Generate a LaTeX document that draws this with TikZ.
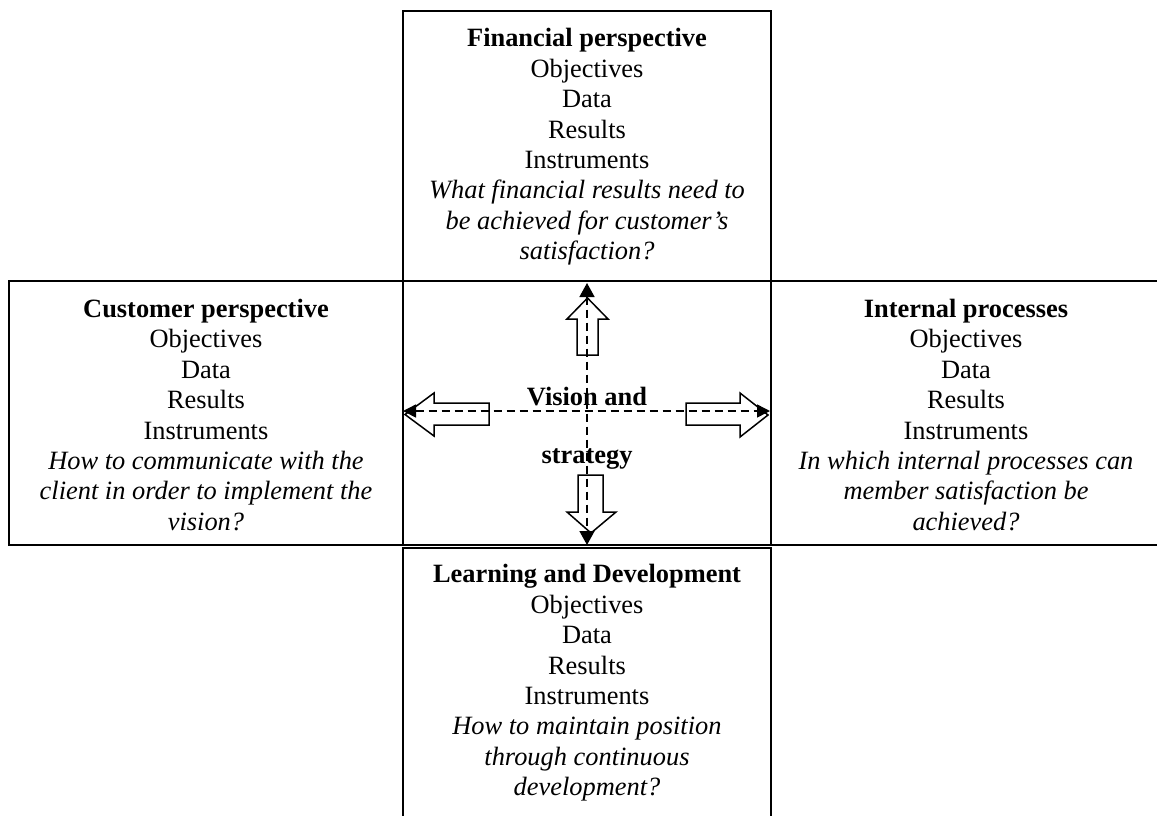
\documentclass[tikz,border=0pt]{standalone}
\usepackage{fontspec}
\setmainfont{Liberation Serif}
\usetikzlibrary{arrows.meta}
\begin{document}
\begin{tikzpicture}[x=1pt,y=-1pt,
  panel/.style={draw=black, line width=1.2pt, inner sep=0pt, outer sep=0pt, rectangle},
  label/.style={anchor=north, inner sep=0pt, align=center,
    font=\fontsize{26.4pt}{30.4pt}\selectfont},
  blockarrow/.style={draw=black, fill=white, line width=1.5pt, line join=miter},
  flow/.style={line width=1.5pt, dash pattern=on 8pt off 5pt,
    {Triangle[length=14pt,width=15pt]}-{Triangle[length=14pt,width=15pt]}},
  crossflow/.style={line width=1.5pt, dash pattern=on 8pt off 5pt,
    {Triangle[length=13pt,width=13pt]}-{Triangle[length=13pt,width=13pt]}}]
\useasboundingbox (0,0) rectangle (1157,815);
\begin{scope}
\clip (0,0) rectangle (1157,815);
% the five panels of the scorecard
\node[panel, minimum width=368pt, minimum height=270pt] (fin) at (587,146) {};
\node[panel, minimum width=394pt, minimum height=264pt] (cust) at (206,413) {};
\node[panel, minimum width=368pt, minimum height=264pt] (core) at (587,413) {};
\node[panel, minimum width=391pt, minimum height=264pt] (proc) at (966.5,413) {};
\node[panel, minimum width=368pt, minimum height=274pt] (learn) at (587,685) {};

% hollow block arrows around the centre
\draw[blockarrow] (577,355) -- (577,319) -- (567,319) -- (587.5,298) -- (608,319) -- (598,319) -- (598,355) -- cycle;
\draw[blockarrow] (578,475) -- (578,512) -- (567,512) -- (591,533) -- (616,512) -- (603,512) -- (603,475) -- cycle;
\draw[blockarrow] (489,403) -- (434,403) -- (434,393) -- (405,414.5) -- (434,436) -- (434,425) -- (489,425) -- cycle;
\draw[blockarrow] (686,403) -- (740,403) -- (740,393) -- (768,415) -- (740,437) -- (740,425) -- (686,425) -- cycle;

% dashed double-headed links across the centre
\coordinate (cn) at (587,283);
\coordinate (cs) at (587,545);
\coordinate (cw) at (403,411);
\coordinate (ce) at (770,411);
\draw[flow] (cn) -- (cs);
\draw[crossflow] (cw) -- (ce);
\end{scope}

% panel texts
\node[label] (fintext) at (587,26.7) {\rule{0pt}{20pt}\textbf{Financial perspective}\\
  Objectives\\ Data\\ Results\\ Instruments\\
  \textit{What financial results need to}\\
  \textit{be achieved for customer’s}\\
  \textit{satisfaction?}};
\node[label] (custtext) at (206,297.3) {\rule{0pt}{20pt}\textbf{Customer perspective}\\
  Objectives\\ Data\\ Results\\ Instruments\\
  \textit{How to communicate with the}\\
  \textit{client in order to implement the}\\
  \textit{vision?}};
\node[label] (proctext) at (966,297.3) {\rule{0pt}{20pt}\textbf{Internal processes}\\
  Objectives\\ Data\\ Results\\ Instruments\\
  \textit{In which internal processes can}\\
  \textit{member satisfaction be}\\
  \textit{achieved?}};
\node[label] (learntext) at (587,562.7) {\rule{0pt}{20pt}\textbf{Learning and Development}\\
  Objectives\\ Data\\ Results\\ Instruments\\
  \textit{How to maintain position}\\
  \textit{through continuous}\\
  \textit{development?}};
\node[label, font=\fontsize{26.4pt}{58pt}\selectfont] (vision) at (587,385)
  {\rule{0pt}{20pt}\textbf{Vision and}\\ \textbf{strategy}};
\end{tikzpicture}
\end{document}
